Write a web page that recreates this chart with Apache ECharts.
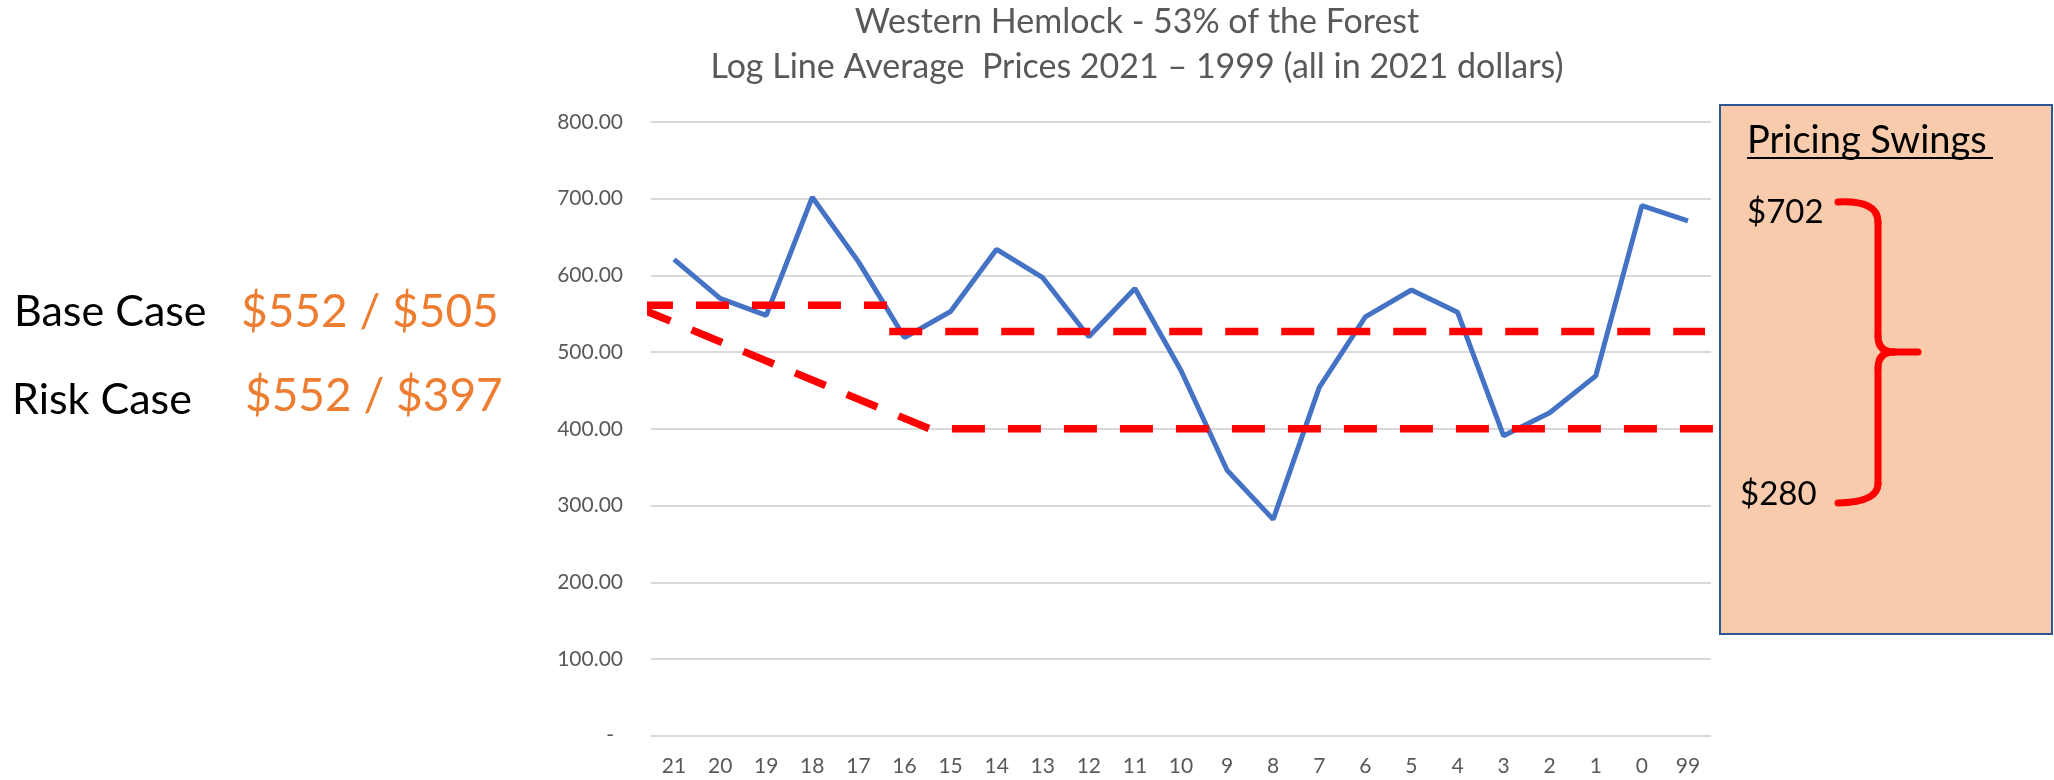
<!DOCTYPE html>
<html>
<head>
<meta charset="utf-8">
<script src="https://cdn.jsdelivr.net/npm/echarts@6/dist/echarts.min.js"></script>
<style>html,body{margin:0;padding:0;background:#fff;}#c{width:2054px;height:780px;}</style>
</head>
<body>
<div id="c"></div>
<script>
// ---- data ----
const categories = ['21','20','19','18','17','16','15','14','13','12','11','10','9','8','7','6','5','4','3','2','1','0','99'];
const prices = [621, 570, 548, 702, 618, 519, 553, 634, 597, 520, 583, 476, 346, 282, 454, 546, 581, 552, 391, 421, 469, 691, 671];
const yTicks = [0, 100, 200, 300, 400, 500, 600, 700, 800];
// base case dashed lines: [categoryPosition, value]
const baseCaseA = [[-0.74, 561], [4.62, 561]];
const baseCaseB = [[4.67, 527], [22.37, 527]];
// risk case dashed line
const riskCase = [[-0.74, 557], [5.55, 400], [22.9, 400]];

const FONT = 'Lato, "Noto Sans", sans-serif';
const chart = echarts.init(document.getElementById('c'));
const dashStyle = { color: '#ff0000', width: 7.5, type: [33, 23] };
const braceStyle = { fill: null, stroke: '#ff0000', lineWidth: 7, lineCap: 'round' };

chart.setOption({
  animation: false,
  backgroundColor: '#ffffff',
  title: {
    text: 'Western Hemlock - 53% of the Forest\nLog Line Average  Prices 2021 – 1999 (all in 2021 dollars)',
    left: 1137, top: 0, padding: 0, textAlign: 'center',
    textStyle: { fontFamily: FONT, fontSize: 34, fontWeight: 'normal', color: '#595959', lineHeight: 44.5 }
  },
  grid: { left: 651, top: 122, width: 1060, height: 613.7, containLabel: false },
  xAxis: [{
    type: 'category', data: categories, boundaryGap: true,
    axisLine: { show: false }, axisTick: { show: false },
    axisLabel: { color: '#595959', fontFamily: FONT, fontSize: 21, margin: 20 }
  }, {
    type: 'value', min: -0.5, max: 22.5, show: false
  }],
  yAxis: {
    type: 'value', min: 0, max: 800, interval: 100,
    axisLine: { show: false }, axisTick: { show: false },
    splitLine: { lineStyle: { color: '#d9d9d9', width: 2 } },
    axisLabel: {
      color: '#595959', fontFamily: FONT, fontSize: 21, margin: 28,
      formatter: v => v === 0 ? '{z|-}' : v.toFixed(2),
      rich: { z: { color: '#595959', fontFamily: FONT, fontSize: 21, padding: [0, 9, 0, 0] } }
    }
  },
  series: [{
    type: 'line', data: prices, symbol: 'none',
    lineStyle: { color: '#4472C4', width: 5 }, z: 3
  }, {
    type: 'line', xAxisIndex: 1, data: baseCaseA, symbol: 'none', clip: false,
    lineStyle: dashStyle, z: 4
  }, {
    type: 'line', xAxisIndex: 1, data: baseCaseB, symbol: 'none', clip: false,
    lineStyle: dashStyle, z: 4
  }, {
    type: 'line', xAxisIndex: 1, data: riskCase, symbol: 'none', clip: false,
    lineStyle: dashStyle, z: 4
  }],
  graphic: [
    { type: 'rect', z: 0, shape: { x: 1720, y: 105, width: 332, height: 529 },
      style: { fill: '#F8CBAD', stroke: '#2F5597', lineWidth: 2 } },
    { type: 'text', z: 1, style: { text: 'Pricing Swings', x: 1747, y: 141, font: '38px ' + FONT, fill: '#000', verticalAlign: 'middle', align: 'left' } },
    { type: 'line', z: 1, shape: { x1: 1747, y1: 158, x2: 1993, y2: 158 }, style: { stroke: '#000', lineWidth: 2 } },
    { type: 'text', z: 1, style: { text: '$702', x: 1747, y: 212, font: '33px ' + FONT, fill: '#000', verticalAlign: 'middle', align: 'left' } },
    { type: 'text', z: 1, style: { text: '$280', x: 1740, y: 494, font: '33px ' + FONT, fill: '#000', verticalAlign: 'middle', align: 'left' } },
    { type: 'bezierCurve', z: 1, shape: { x1: 1838, y1: 202, cpx1: 1878, cpy1: 200, x2: 1878, y2: 222 }, style: braceStyle },
    { type: 'line', z: 1, shape: { x1: 1878, y1: 222, x2: 1878, y2: 336 }, style: braceStyle },
    { type: 'bezierCurve', z: 1, shape: { x1: 1878, y1: 336, cpx1: 1878, cpy1: 352, x2: 1894, y2: 352 }, style: braceStyle },
    { type: 'line', z: 1, shape: { x1: 1894, y1: 352, x2: 1918, y2: 352 }, style: braceStyle },
    { type: 'bezierCurve', z: 1, shape: { x1: 1894, y1: 352, cpx1: 1878, cpy1: 352, x2: 1878, y2: 368 }, style: braceStyle },
    { type: 'line', z: 1, shape: { x1: 1878, y1: 368, x2: 1878, y2: 484 }, style: braceStyle },
    { type: 'bezierCurve', z: 1, shape: { x1: 1878, y1: 484, cpx1: 1878, cpy1: 502, x2: 1838, y2: 503 }, style: braceStyle },
    { type: 'text', z: 1, style: { text: 'Base Case', x: 14, y: 312, font: '43px ' + FONT, fill: '#000', verticalAlign: 'middle', align: 'left' } },
    { type: 'text', z: 1, style: { text: '$552 / $505', x: 241, y: 312, font: '46px ' + FONT, fill: '#ED7D31', verticalAlign: 'middle', align: 'left' } },
    { type: 'text', z: 1, style: { text: 'Risk Case', x: 12, y: 400, font: '43px ' + FONT, fill: '#000', verticalAlign: 'middle', align: 'left' } },
    { type: 'text', z: 1, style: { text: '$552 / $397', x: 245, y: 396, font: '46px ' + FONT, fill: '#ED7D31', verticalAlign: 'middle', align: 'left' } }
  ]
});
</script>
</body>
</html>
